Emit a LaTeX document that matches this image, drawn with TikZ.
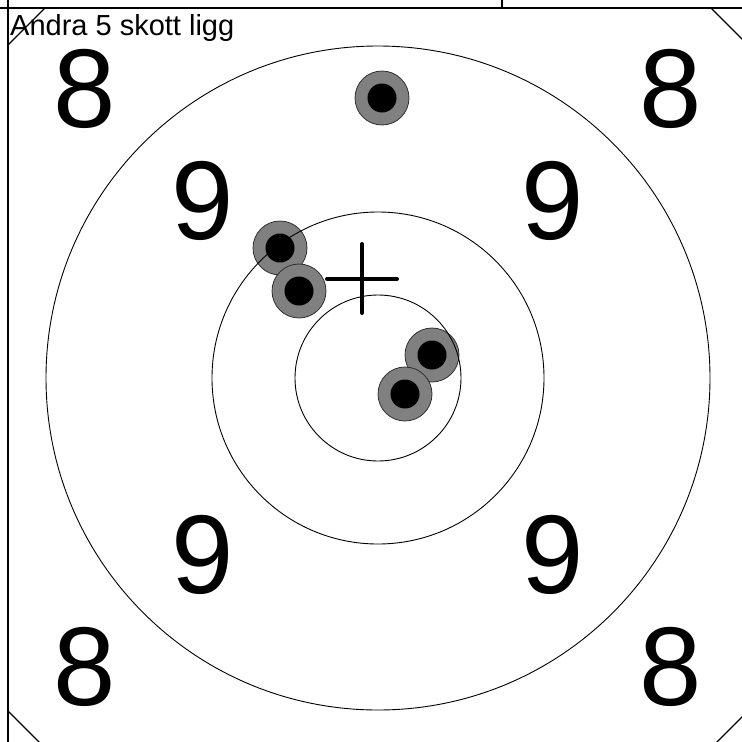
\documentclass[tikz,border=0pt]{standalone}
\usepackage{fontspec}
\setmainfont{Liberation Sans}
\usepackage{tikz}
\usetikzlibrary{positioning}
\definecolor{ShotGray}{HTML}{808080}
\definecolor{ShotEdge}{HTML}{303030}

\begin{document}
\begin{tikzpicture}[
    x=1pt, y=-1pt,
    ring/.style={draw=black, line width=0.9pt},
    shot/.style={circle, draw=ShotEdge, line width=0.8pt, fill=ShotGray, minimum size=54pt, inner sep=0pt},
    hole/.style={circle, fill=black, minimum size=29pt, inner sep=0pt},
    score/.style={font=\fontsize{112}{112}\selectfont, inner sep=0pt},
    frame/.style={draw=black, line width=1.2pt},
    aim/.style={draw=black, line width=4pt, line cap=round}
  ]
    \useasboundingbox (0,0) rectangle (742,742);
    \coordinate (centre) at (378,378);

    \node[anchor=base west, inner sep=0pt, font=\fontsize{29}{29}\selectfont] (title) at (10,35) {Andra 5 skott ligg};

    \node[score] (eightNW) at (85,89) {8};
    \node[score] (eightNE) at (671,89) {8};
    \node[score] (eightSW) at (85,667) {8};
    \node[score] (eightSE) at (671,667) {8};
    \node[score] (nineNW) at (203,201) {9};
    \node[score] (nineNE) at (553,201) {9};
    \node[score] (nineSW) at (203,555) {9};
    \node[score] (nineSE) at (553,555) {9};

    \foreach \i/\x/\y in {1/382/98, 2/280/248, 3/299/291, 4/432/355, 5/405/394} {
      \node[shot] (shot\i) at (\x,\y) {};
      \node[hole] (hole\i) at (shot\i) {};
    }

    \draw[ring] (centre) circle[radius=83];
    \draw[ring] (centre) circle[radius=166];
    \draw[ring] (centre) circle[radius=332];

    \coordinate (aimpt) at (362,279);
    \draw[aim] ([xshift=-35pt]aimpt) -- ([xshift=35pt]aimpt);
    \draw[aim] ([yshift=35pt]aimpt) -- ([yshift=-34pt]aimpt);

    \begin{scope}
      \clip (0,0) rectangle (742,742);
      \draw[frame] (45,8) -- (711,8) -- (748,45) -- (748,711) -- (711,748) -- (45,748) -- (8,711) -- (8,45) -- cycle;
    \end{scope}
    \draw[frame] (0,8) -- (742,8);
    \draw[frame] (8,0) -- (8,742);
    \draw[frame] (502,0) -- (502,8);
  \end{tikzpicture}
\end{document}
